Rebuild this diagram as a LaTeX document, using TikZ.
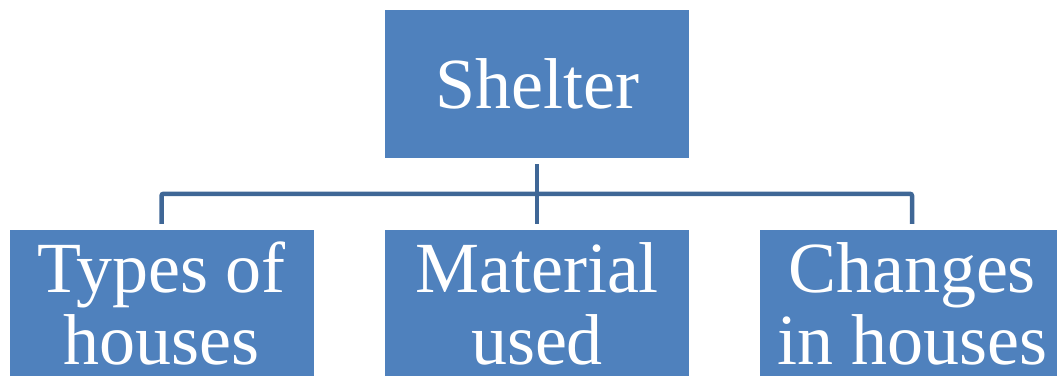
\documentclass[tikz,border=0pt]{standalone}
\usepackage{fontspec}
\setmainfont{Liberation Serif}
\definecolor{boxblue}{HTML}{4F81BD}
\definecolor{lineblue}{HTML}{3F6796}
\begin{document}
\begin{tikzpicture}[x=1pt,y=1pt,
  box/.style={fill=boxblue, draw=none, inner sep=0pt, minimum width=304pt, minimum height=148pt,
    text=white, align=center, font=\fontsize{72}{72}\selectfont},
  conn/.style={draw=lineblue, line width=4.5pt, rounded corners=2pt}]
\useasboundingbox (0,0) rectangle (1057,375);
\node[box] (shelter) at (537,291) {Shelter};
\node[box] (types) at (161.5,71) {Types of\\houses};
\node[box] (material) at (537,71) {Material\\used};
\node[box] (changes) at (912,71) {Changes\\in houses};
\draw[conn] ([yshift=-6pt]shelter.south) -- ([yshift=6pt]material.north);
\draw[conn] ([yshift=6pt]types.north) -- ++(0,30) -| ([yshift=6pt]changes.north);
\end{tikzpicture}
\end{document}
